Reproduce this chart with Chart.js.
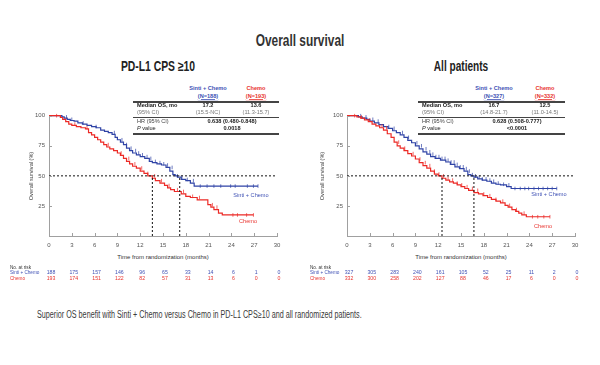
<!DOCTYPE html>
<html>
<head>
<meta charset="utf-8">
<script src="https://cdn.jsdelivr.net/npm/chart.js@4"></script>
<style>
  html, body { margin: 0; padding: 0; background: #fff; }
  #page { position: relative; width: 600px; height: 365px; overflow: hidden; font-family: "Liberation Sans", Arial, sans-serif; color: #333; }
  .t { position: absolute; white-space: nowrap; line-height: 1; }
  .rule { position: absolute; background: #444; }
  canvas { position: absolute; }
</style>
</head>
<body>
<div id="page">
  <canvas id="leftKM" width="300" height="145" style="left:0;top:105px;width:300px;height:145px"></canvas>
  <canvas id="rightKM" width="300" height="145" style="left:300px;top:105px;width:300px;height:145px"></canvas>
</div>
<script>
/***************************************
 * Data
 ***************************************/
const BLUE = '#2f43a6';
const RED = '#ec2a26';
const BLUE_TXT = '#4052b5';
const RED_TXT = '#e8332e';

const monthTicks = [0, 3, 6, 9, 12, 15, 18, 21, 24, 27, 30];

// PD-L1 CPS >= 10
const cpsSintiT = [0, 1.7, 2.0, 2.4, 2.8, 3.3, 3.8, 4.4, 5.0, 5.6, 6.2, 6.8, 7.3, 7.8, 8.3, 8.7, 9.0, 9.4, 9.8, 10.2, 10.6, 11.0, 11.5, 12.0, 12.6, 13.2, 13.6, 14.2, 14.8, 15.4, 15.9, 16.3, 16.6, 16.9, 17.4, 18.0, 18.6, 19.1, 19.5, 27.5];
const cpsSintiS = [100, 100, 99, 98, 97, 96, 95.5, 94, 93, 92, 91, 90, 88, 87, 86, 84.5, 82, 80, 78, 76, 73, 71, 69, 67.5, 66, 64.5, 62, 61, 60, 59, 57, 54, 51, 50, 49, 47, 46, 44, 41.5, 41.5];
const cpsSintiCens = [2.3, 3.0, 4.5, 6.2, 8.6, 9.6, 10.2, 10.8, 11.4, 11.8, 12.3, 12.9, 13.4, 14.0, 14.6, 15.1, 15.6, 16.2, 16.9, 17.5, 18.2, 19.0, 19.9, 20.8, 21.7, 22.6, 23.9, 24.5, 26.1, 26.9, 27.5];

const cpsChemoT = [0, 1.5, 1.8, 2.2, 2.6, 3.0, 3.6, 4.2, 4.8, 5.2, 5.6, 6.0, 6.4, 6.8, 7.2, 7.6, 8.0, 8.5, 9.0, 9.4, 9.8, 10.2, 10.6, 11.0, 11.5, 12.0, 12.5, 13.0, 13.6, 14.0, 14.6, 15.2, 15.6, 16.0, 16.5, 17.4, 18.0, 18.6, 19.5, 20.9, 21.3, 21.7, 22.3, 22.8, 23.1, 26.9];
const cpsChemoS = [100, 100, 98.5, 97, 95, 93, 92, 91, 90, 89, 86, 84, 82, 80, 78, 76, 74, 72.5, 71, 69, 67, 64.5, 62, 60, 58, 56.5, 54, 52, 50, 48, 46, 44, 42, 40, 38.5, 37, 35, 33, 32, 30, 26, 24, 22, 19, 17.5, 17.5];
const cpsChemoCens = [1.0, 3.4, 5.0, 7.8, 9.5, 10.5, 11.3, 12.2, 13.0, 13.9, 14.8, 15.8, 16.9, 17.7, 18.9, 19.8, 21.5, 22.1, 24.2, 24.8, 26.0, 26.9];

const cpsRiskSinti = [188, 175, 157, 146, 96, 65, 33, 14, 6, 1, 0];
const cpsRiskChemo = [193, 174, 151, 122, 82, 57, 31, 13, 6, 0, 0];
const cpsMedians = [17.2, 13.6];

// All patients
const allSintiT = [0, 1.5, 2.0, 2.6, 3.0, 3.6, 4.2, 4.8, 5.4, 6.0, 6.5, 7.0, 7.5, 8.0, 8.5, 9.0, 9.5, 10.0, 10.5, 11.0, 11.6, 12.3, 13.0, 13.6, 14.2, 14.8, 15.4, 15.9, 16.3, 16.7, 17.2, 17.8, 18.4, 19.0, 19.6, 20.2, 21.0, 21.6, 22.0, 27.6];
const allSintiS = [100, 100, 99, 98, 97, 95.5, 94, 92.5, 91, 89.5, 87.5, 86, 84, 82, 79.5, 77.5, 75, 72.5, 70, 68, 66, 64.5, 63, 61.5, 59.5, 57.5, 56, 54, 51, 50, 49, 47.5, 46.5, 45.5, 44, 43, 42.5, 41, 39.5, 39.5];
const allSintiCens = [1.8, 2.5, 3.4, 4.1, 5.5, 6.2, 7.3, 8.1, 9.2, 9.8, 10.4, 10.9, 11.3, 11.7, 12.1, 12.5, 12.9, 13.3, 13.7, 14.1, 14.5, 14.9, 15.3, 15.7, 16.1, 16.5, 16.9, 17.4, 17.8, 18.3, 18.8, 19.3, 19.9, 20.6, 21.3, 22.1, 22.8, 23.4, 23.9, 24.6, 25.2, 25.8, 26.4, 27.0, 27.6];

const allChemoT = [0, 1.3, 1.8, 2.3, 2.8, 3.3, 3.8, 4.3, 4.8, 5.3, 5.8, 6.2, 6.6, 7.0, 7.5, 8.0, 8.5, 9.0, 9.5, 10.0, 10.5, 11.0, 11.5, 12.0, 12.5, 13.0, 13.5, 14.0, 14.5, 15.0, 15.5, 16.0, 16.7, 17.3, 17.9, 18.5, 19.0, 19.6, 20.2, 20.8, 21.2, 21.7, 22.2, 22.6, 23.0, 23.6, 24.0, 26.7];
const allChemoS = [100, 100, 99, 98, 96.5, 95, 93, 91.5, 90, 88, 85, 82, 78, 75, 73, 71, 68.5, 66.5, 64, 61, 58.5, 56.5, 54, 51.5, 50, 48, 46.5, 45, 44, 42.5, 41, 39.5, 38, 36, 35, 33.5, 32, 30.5, 29, 27.5, 25.5, 24, 22, 20.5, 19, 17.5, 16, 16];
const allChemoCens = [1.0, 1.9, 3.0, 4.6, 5.2, 6.8, 7.6, 8.7, 9.6, 10.3, 10.9, 11.5, 12.1, 12.7, 13.3, 13.9, 14.5, 15.1, 15.8, 16.5, 17.2, 18.0, 18.8, 19.6, 20.5, 21.4, 22.3, 23.3, 24.4, 25.1, 25.9, 26.7];

const allRiskSinti = [327, 305, 283, 240, 161, 105, 52, 25, 11, 2, 0];
const allRiskChemo = [332, 300, 258, 202, 127, 88, 46, 17, 6, 0, 0];
const allMedians = [16.7, 12.5];

/***************************************
 * Helpers
 ***************************************/
const page = document.getElementById('page');

// place a text: a = 'l' | 'c' | 'r', y is the vertical centre, sx squeezes it sideways
function put(text, x, y, a, css, sx) {
  const d = document.createElement('div');
  d.className = 't';
  d.innerHTML = text;
  d.style.left = x + 'px';
  d.style.top = y + 'px';
  const tx = a === 'c' ? '-50%' : a === 'r' ? '-100%' : '0';
  d.style.transformOrigin = (a === 'c' ? 'center' : a === 'r' ? 'right' : 'left') + ' center';
  d.style.transform = 'translate(' + tx + ',-50%)' + (sx ? ' scaleX(' + sx + ')' : '');
  if (css) d.style.cssText += css;
  page.appendChild(d);
  return d;
}

function rule(x1, x2, y, h) {
  const d = document.createElement('div');
  d.className = 'rule';
  d.style.left = x1 + 'px';
  d.style.width = (x2 - x1) + 'px';
  d.style.top = y + 'px';
  d.style.height = h + 'px';
  page.appendChild(d);
}

function toPoints(ts, ss) {
  return ts.map((t, i) => ({ x: t, y: ss[i] }));
}

// survival value at time t on a step curve
function survAt(ts, ss, t) {
  let v = ss[0];
  for (let i = 0; i < ts.length; i++) {
    if (ts[i] <= t) v = ss[i];
  }
  return v;
}

// small tick marks pointing into the plot
const innerTicks = {
  id: 'innerTicks',
  afterDraw(chart) {
    const ctx = chart.ctx;
    const xs = chart.scales.x, ys = chart.scales.y;
    ctx.save();
    ctx.strokeStyle = '#a0a0a0';
    ctx.lineWidth = 1;
    ctx.beginPath();
    monthTicks.forEach(m => {
      const px = Math.round(xs.getPixelForValue(m)) + 0.5;
      ctx.moveTo(px, ys.bottom);
      ctx.lineTo(px, ys.bottom - 3);
    });
    [25, 50, 75, 100].forEach(v => {
      const py = Math.round(ys.getPixelForValue(v)) + 0.5;
      ctx.moveTo(xs.left, py);
      ctx.lineTo(xs.left + 3, py);
    });
    ctx.stroke();
    ctx.restore();
  }
};

function makeKM(id, yWidth, padRight, sT, sS, sC, cT, cS, cC, medians) {
  const stepLine = (ts, ss, color) => ({
    type: 'line',
    data: toPoints(ts, ss),
    borderColor: color,
    borderWidth: 1.2,
    stepped: 'after',
    pointRadius: 0,
    clip: 3
  });
  const censor = (times, ts, ss, color) => ({
    type: 'scatter',
    data: times.map(t => ({ x: t, y: survAt(ts, ss, t) })),
    pointStyle: 'line',
    rotation: 90,
    radius: 1.8,
    borderColor: color,
    borderWidth: 0.7,
    clip: 3
  });
  const dash = (pts) => ({
    type: 'line',
    data: pts,
    borderColor: '#111',
    borderWidth: 1,
    borderDash: [2, 2],
    pointRadius: 0
  });
  return new Chart(document.getElementById(id), {
    data: {
      datasets: [
        dash([{ x: 0, y: 50 }, { x: 29.8, y: 50 }]),
        dash([{ x: medians[0], y: 0 }, { x: medians[0], y: 50 }]),
        dash([{ x: medians[1], y: 0 }, { x: medians[1], y: 50 }]),
        stepLine(cT, cS, RED),
        censor(cC, cT, cS, RED),
        stepLine(sT, sS, BLUE),
        censor(sC, sT, sS, BLUE)
      ]
    },
    options: {
      responsive: false,
      animation: false,
      events: [],
      layout: { padding: { top: 10.7, right: padRight, left: 0, bottom: 0 } },
      plugins: { legend: { display: false }, tooltip: { enabled: false } },
      scales: {
        x: {
          type: 'linear', min: 0, max: 30,
          afterFit: s => { s.height = 14; },
          afterBuildTicks: s => { s.ticks = monthTicks.map(v => ({ value: v })); },
          grid: { display: false, drawTicks: false },
          border: { display: true, color: '#a0a0a0', width: 1 },
          ticks: { color: '#555', font: { size: 6 }, padding: 6, maxRotation: 0, autoSkip: false }
        },
        y: {
          type: 'linear', min: 0, max: 100,
          afterFit: s => { s.width = yWidth; },
          grid: { display: false, drawTicks: false },
          border: { display: true, color: '#a0a0a0', width: 1 },
          ticks: { stepSize: 25, color: '#555', font: { size: 6 }, padding: 4,
                   callback: v => (v === 0 ? '' : v) }
        }
      }
    },
    plugins: [innerTicks]
  });
}

Chart.defaults.font.family = '"Liberation Sans", Arial, sans-serif';

makeKM('leftKM', 49, 23, cpsSintiT, cpsSintiS, cpsSintiCens, cpsChemoT, cpsChemoS, cpsChemoCens, cpsMedians);
makeKM('rightKM', 47, 25, allSintiT, allSintiS, allSintiCens, allChemoT, allChemoS, allChemoCens, allMedians);

/***************************************
 * Titles, tables, numbers at risk
 ***************************************/
put('Overall survival', 300, 40, 'c', 'font-weight:bold;font-size:17px;color:#333;', 0.7);
put('PD-L1 CPS ≥10', 158, 66, 'c', 'font-weight:bold;font-size:14px;color:#222;', 0.74);
put('All patients', 461, 66, 'c', 'font-weight:bold;font-size:14px;color:#222;', 0.72);
put('Superior OS benefit with Sinti + Chemo versus Chemo in PD-L1 CPS≥10 and all randomized patients.',
    37, 315, 'l', 'font-size:10px;color:#3a3a3a;', 0.72);

function table(x1, x2, c1, c2, cm, nS, nC, med, ci, hr, p) {
  const small = 'font-size:5.6px;';
  put('Sinti + Chemo', c1, 89, 'c', small + 'color:' + BLUE_TXT + ';font-weight:bold;');
  put('(N=' + nS + ')', c1, 96.5, 'c', small + 'color:' + BLUE_TXT + ';font-weight:bold;text-decoration:underline;');
  put('Chemo', c2, 89, 'c', small + 'color:' + RED_TXT + ';font-weight:bold;');
  put('(N=' + nC + ')', c2, 96.5, 'c', small + 'color:' + RED_TXT + ';font-weight:bold;text-decoration:underline;');
  rule(x1, x2, 101, 1.5);
  put('Median OS, mo', x1 + 4, 106, 'l', small + 'color:#222;font-weight:bold;');
  put(med[0], c1, 106, 'c', small + 'color:#222;font-weight:bold;');
  put(med[1], c2, 106, 'c', small + 'color:#222;font-weight:bold;');
  put('(95% CI)', x1 + 4, 112.5, 'l', small + 'color:#777;');
  put(ci[0], c1, 112.5, 'c', small + 'color:#777;');
  put(ci[1], c2, 112.5, 'c', small + 'color:#777;');
  rule(x1, x2, 116.5, 1);
  put('HR (95% CI)', x1 + 4, 121.5, 'l', small + 'color:#444;');
  put(hr, cm, 121.5, 'c', small + 'color:#222;font-weight:bold;');
  put('<i>P</i> value', x1 + 4, 128.5, 'l', small + 'color:#222;');
  put(p, cm, 128.5, 'c', small + 'color:#222;font-weight:bold;');
  rule(x1, x2, 132.5, 2);
}

table(133, 279, 208, 256, 232, 188, 193, ['17.2', '13.6'], ['(15.5-NC)', '(11.3-15.7)'], '0.638 (0.480-0.848)', '0.0018');
table(418, 565, 494, 545, 517, 327, 332, ['16.7', '12.5'], ['(14.8-21.7)', '(11.0-14.5)'], '0.628 (0.508-0.777)', '&lt;0.0001');

function axisText(axisX, yTitleX, riskLeft, riskS, riskC, labS, labC) {
  const small = 'font-size:5.6px;';
  const tiny = 'font-size:5.2px;';
  const yt = put('Overall survival (%)', yTitleX, 176, 'c', small + 'color:#444;');
  yt.style.transform = 'translate(-50%,-50%) rotate(-90deg)';
  put('Time from randomization (months)', axisX + 114, 257, 'c', 'font-size:6px;color:#333;');
  put('No. at risk', riskLeft, 267.5, 'l', tiny + 'color:#333;', 0.9);
  put('Sinti + Chemo', riskLeft, 273, 'l', tiny + 'color:' + BLUE_TXT + ';', 0.9);
  put('Chemo', riskLeft, 278.5, 'l', tiny + 'color:' + RED_TXT + ';', 0.9);
  monthTicks.forEach((m, i) => {
    const x = axisX + m * 7.6;
    put(String(riskS[i]), x + 2, 273, 'c', tiny + 'color:' + BLUE_TXT + ';');
    put(String(riskC[i]), x + 2, 278.5, 'c', tiny + 'color:' + RED_TXT + ';');
  });
  put('Sinti + Chemo', labS[0], labS[1], 'c', small + 'color:' + BLUE_TXT + ';');
  put('Chemo', labC[0], labC[1], 'c', small + 'color:' + RED_TXT + ';');
}

axisText(49, 32, 10, cpsRiskSinti, cpsRiskChemo, [251, 196], [248, 222]);
axisText(347, 323, 310, allRiskSinti, allRiskChemo, [549, 195], [543, 227]);
</script>
</body>
</html>
